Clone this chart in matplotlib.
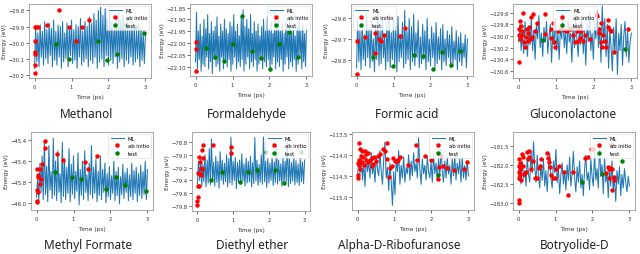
import numpy as np
import matplotlib.pyplot as plt
from matplotlib.ticker import MultipleLocator, ScalarFormatter

# ---- data (energies in eV, times in ps) ----
NAMES = ["Methanol", "Formaldehyde", "Formic acid", "Gluconolactone",
         "Methyl Formate", "Diethyl ether", "Alpha-D-Ribofuranose", "Botryolide-D"]

methanol_ml = [-30.16, -29.90, -30.12, -29.94, -30.15, -29.89, -30.09, -29.93, -30.14, -29.87,
               -30.10, -29.92, -30.13, -29.88, -30.08, -29.91, -30.15, -29.86, -30.11, -29.93,
               -30.14, -29.89, -30.09, -29.90, -30.16, -29.87, -30.12, -29.94, -30.10, -29.88,
               -30.15, -29.91, -30.08, -29.86, -30.13, -29.92, -30.11, -29.89, -30.16, -29.90,
               -30.09, -29.85, -30.14, -29.93, -30.12, -29.87, -30.10, -29.90, -30.15, -29.84,
               -30.11, -29.88, -30.13, -29.82, -30.09, -29.86, -30.16, -29.80, -30.12, -29.78,
               -30.10, -29.83, -30.15, -29.79, -30.08, -29.85, -30.14, -29.81, -30.11, -29.87,
               -30.13, -29.89, -30.09, -29.84, -30.16, -29.82, -30.12, -29.86, -30.10, -29.83,
               -30.15, -29.88, -30.11, -29.85, -30.13, -29.90, -30.09, -29.87, -30.14, -29.89,
               -30.12, -29.92, -30.10, -29.88, -30.15, -29.91, -30.11, -29.93, -30.13, -29.95]
methanol_ab_t = [0.0, 0.0, 0.0, 0.0, 0.02, 0.0, 0.05, 0.1, 0.33, 0.65, 0.93, 1.13, 1.28, 1.47]
methanol_ab_e = [-30.19, -30.14, -30.07, -30.06, -29.99, -29.90, -29.90, -29.90, -29.89, -29.80,
                 -29.90, -29.99, -29.90, -29.86]
methanol_test_t = [0.57, 0.92, 1.72, 1.97, 2.22, 2.47, 2.72, 2.97]
methanol_test_e = [-30.01, -30.10, -29.99, -30.11, -30.07, -29.89, -29.90, -29.94]

formald_ml = [-22.08, -21.87, -22.11, -21.95, -22.07, -21.92, -22.12, -21.97, -22.09, -21.90,
              -22.10, -21.94, -22.06, -21.88, -22.11, -21.96, -22.08, -21.91, -22.13, -21.95,
              -22.07, -21.93, -22.10, -21.89, -22.09, -21.97, -22.12, -21.92, -22.06, -21.95,
              -22.11, -21.90, -22.08, -21.94, -22.10, -21.96, -22.07, -21.91, -22.12, -21.93,
              -22.09, -21.88, -22.06, -21.95, -22.11, -21.92, -22.08, -21.97, -22.10, -21.89,
              -22.07, -21.86, -22.12, -21.93, -22.09, -21.90, -22.06, -21.94, -22.11, -21.88,
              -22.08, -21.96, -22.10, -21.91, -22.07, -21.95, -22.12, -21.92, -22.09, -21.97,
              -22.06, -21.93, -22.11, -21.90, -22.08, -21.95, -22.10, -21.89, -22.07, -21.94,
              -22.12, -21.91, -22.09, -21.96, -22.06, -21.87, -22.11, -21.93, -22.08, -21.90,
              -22.10, -21.95, -22.07, -21.92, -22.12, -21.96, -22.09, -21.91, -22.06, -21.94,
              -22.11, -21.89, -22.08, -21.95, -22.10, -21.92, -22.07, -21.97, -22.12, -21.93,
              -22.09, -21.90, -22.06, -21.95, -22.11, -21.92, -22.08, -21.96, -22.10, -21.94]
formald_ab_t = [0.0, 0.0, 0.0]
formald_ab_e = [-21.995, -22.025, -22.12]
formald_test_t = [0.27, 0.52, 0.77, 1.02, 1.27, 1.52, 1.77, 2.02, 2.27, 2.52, 2.77]
formald_test_e = [-22.02, -22.06, -22.075, -22.005, -21.885, -22.035, -22.065, -22.11,
                  -22.005, -21.955, -22.06]

formic_ml = [-29.84, -29.60, -29.81, -29.66, -29.85, -29.62, -29.80, -29.68, -29.83, -29.58,
             -29.79, -29.65, -29.84, -29.61, -29.81, -29.70, -29.86, -29.63, -29.80, -29.57,
             -29.83, -29.66, -29.82, -29.60, -29.79, -29.69, -29.85, -29.62, -29.81, -29.58,
             -29.84, -29.67, -29.80, -29.61, -29.83, -29.64, -29.86, -29.59, -29.81, -29.68,
             -29.79, -29.62, -29.84, -29.56, -29.82, -29.66, -29.80, -29.60, -29.85, -29.64,
             -29.81, -29.58, -29.83, -29.67, -29.79, -29.61, -29.84, -29.69, -29.82, -29.63,
             -29.80, -29.66, -29.85, -29.60, -29.81, -29.70, -29.83, -29.64, -29.79, -29.67,
             -29.84, -29.62, -29.82, -29.69, -29.80, -29.65, -29.85, -29.63, -29.81, -29.70,
             -29.83, -29.66, -29.79, -29.68, -29.84, -29.64, -29.82, -29.71, -29.80, -29.66,
             -29.85, -29.69, -29.81, -29.67, -29.83, -29.72, -29.79, -29.68, -29.84, -29.70]
formic_ab_t = [0.0, 0.0, 0.22, 0.5, 0.5, 0.6, 0.67, 0.75, 1.17, 1.32]
formic_ab_e = [-29.71, -29.87, -29.69, -29.67, -29.77, -29.70, -29.71, -29.68, -29.685, -29.645]
formic_test_t = [0.45, 0.98, 1.56, 1.81, 2.06, 2.31, 2.56, 2.81]
formic_test_e = [-29.79, -29.83, -29.78, -29.785, -29.845, -29.765, -29.825, -29.76]

glucono_ml = [-130.10, -129.80, -130.25, -129.95, -130.30, -129.75, -130.05, -130.35, -129.85, -130.15,
              -129.70, -130.25, -129.90, -130.40, -129.80, -130.05, -129.65, -130.20, -129.95, -130.35,
              -129.85, -130.10, -129.75, -130.30, -130.00, -129.80, -130.45, -129.90, -130.15, -129.70,
              -130.25, -129.95, -130.40, -129.85, -130.05, -129.60, -130.20, -129.90, -130.30, -129.75,
              -130.10, -129.95, -130.45, -129.80, -130.20, -129.65, -130.05, -130.35, -129.85, -130.15,
              -129.70, -130.30, -129.90, -130.50, -129.80, -130.10, -129.60, -130.25, -129.95, -130.40,
              -129.75, -130.05, -129.55, -130.20, -129.85, -130.45, -129.48, -130.10, -129.70, -130.35,
              -129.80, -130.55, -129.90, -130.20, -130.60, -129.85, -130.30, -129.70, -130.66, -129.95,
              -130.25, -129.80, -130.50, -130.00, -129.75, -130.35, -129.90, -130.45, -130.10, -129.95]
glucono_ab_t = [0.0, 0.035, 0.06, 0.08, 0.10, 0.12, 0.15, 0.17, 0.21, 0.26, 0.30, 0.33, 0.36, 0.39,
                0.43, 0.48, 0.70, 0.70, 0.86, 0.92, 0.94, 0.98, 1.05, 1.12, 1.30, 1.36, 1.45, 1.49,
                1.54, 1.56, 1.62, 1.71, 1.76, 1.89, 2.07, 2.09, 2.13, 2.15, 2.20, 2.24, 2.29, 2.33,
                2.37, 2.42, 2.46, 2.55, 2.90, 0.01, 0.02, 0.04, 0.19, 0.24, 0.27, 0.87, 1.21, 1.40,
                1.58, 1.67, 2.18, 2.22, 2.39]
glucono_ab_e = [-130.45, -129.75, -129.83, -129.91, -129.98, -129.60, -130.11, -130.18, -129.88,
                -129.95, -130.05, -129.67, -130.01, -129.62, -129.91, -129.78, -129.63, -129.96,
                -130.03, -129.77, -130.11, -130.18, -129.91, -129.85, -129.91, -129.88, -129.98,
                -130.10, -129.86, -129.91, -130.03, -130.08, -129.98, -130.05, -129.62, -129.66,
                -129.88, -129.95, -129.78, -129.98, -130.08, -130.18, -129.72, -129.90, -129.91,
                -130.28, -129.88, -129.88, -129.98, -130.05, -130.01, -130.08, -129.85, -129.88,
                -129.90, -129.86, -130.08, -129.91, -130.11, -130.18, -129.85]
glucono_test_t = [0.65, 2.82]
glucono_test_e = [-130.06, -130.22]

mformate_ml = [-45.95, -45.75, -45.98, -45.62, -45.90, -45.55, -45.97, -45.40, -45.92, -45.65,
               -45.99, -45.45, -45.88, -45.70, -45.96, -45.38, -45.93, -45.60, -45.98, -45.50,
               -45.90, -45.72, -46.00, -45.42, -45.94, -45.58, -45.97, -45.66, -45.91, -45.48,
               -45.99, -45.63, -45.92, -45.55, -45.96, -45.70, -45.89, -45.52, -46.02, -45.68,
               -45.93, -45.60, -45.97, -45.50, -45.90, -45.73, -45.98, -45.62, -45.92, -45.45,
               -45.96, -45.66, -45.91, -45.58, -45.99, -45.70, -45.93, -45.55, -45.97, -45.68,
               -45.90, -45.62, -46.00, -45.72, -45.94, -45.65, -45.97, -45.74, -45.91, -45.60,
               -45.98, -45.70, -45.93, -45.66, -46.01, -45.75, -45.92, -45.63, -45.96, -45.71,
               -45.90, -45.67, -45.98, -45.73, -45.94, -45.62, -45.97, -45.69, -45.91, -45.66,
               -45.99, -45.72, -45.93, -45.64, -45.96, -45.70, -45.92, -45.60, -45.97, -45.68]
mformate_ab_t = [0.02, 0.02, 0.02, 0.03, 0.02, 0.03, 0.03, 0.09, 0.10, 0.13, 0.15, 0.22, 0.22,
                 0.56, 0.71, 1.32, 1.40, 1.64]
mformate_ab_e = [-45.98, -45.99, -45.875, -45.90, -45.68, -45.73, -45.75, -45.68, -45.82, -45.77,
                 -45.625, -45.41, -45.47, -45.53, -45.59, -45.61, -45.675, -45.55]
mformate_test_t = [0.49, 0.96, 1.21, 1.89, 2.14, 2.38, 2.96]
mformate_test_e = [-45.70, -45.75, -45.775, -45.87, -45.75, -45.83, -45.89]

diethyl_ml = [-79.45, -79.10, -79.40, -79.05, -79.48, -79.15, -79.42, -79.00, -79.50, -79.08,
              -79.44, -78.90, -79.47, -78.75, -79.41, -79.12, -79.49, -79.02, -79.43, -79.10,
              -79.52, -78.95, -79.40, -79.08, -79.46, -79.13, -79.42, -79.00, -79.50, -79.06,
              -79.44, -78.72, -79.47, -79.10, -79.40, -79.04, -79.53, -79.12, -79.43, -79.08,
              -79.46, -78.98, -79.41, -79.14, -79.49, -79.05, -79.44, -79.10, -79.42, -79.02,
              -79.50, -79.12, -79.45, -78.73, -79.41, -79.08, -79.48, -79.15, -79.43, -79.00,
              -79.46, -78.72, -79.42, -79.10, -79.51, -79.05, -79.44, -79.13, -79.40, -79.02,
              -79.48, -79.11, -79.43, -78.85, -79.46, -79.08, -79.41, -79.14, -79.49, -79.04,
              -79.44, -79.10, -79.42, -78.78, -79.50, -79.06, -79.45, -79.12, -79.41, -79.02,
              -79.47, -79.09, -79.43, -79.14, -79.48, -79.05, -79.42, -79.11, -79.45, -79.08]
diethyl_ab_t = [0.0, 0.0, 0.02, 0.02, 0.04, 0.02, 0.04, 0.06, 0.08, 0.11, 0.11, 0.12, 0.13,
                0.15, 0.17, 0.45, 0.93, 0.93]
diethyl_ab_e = [-79.78, -79.72, -79.66, -79.49, -79.48, -79.29, -79.03, -79.11, -79.30, -79.31,
                -79.20, -79.22, -78.93, -78.85, -79.05, -78.85, -78.88, -78.97]
diethyl_test_t = [0.39, 0.69, 1.18, 1.43, 1.67, 1.92, 2.16, 2.43, 2.91]
diethyl_test_e = [-79.40, -79.26, -79.43, -79.26, -79.24, -78.96, -79.24, -79.44, -78.96]

ribo_ml = [-114.50, -114.10, -114.45, -114.00, -114.60, -114.20, -114.75, -114.05, -114.40, -114.15,
           -114.55, -113.95, -114.45, -114.25, -114.65, -114.05, -114.35, -114.50, -113.90, -114.40,
           -114.70, -114.10, -113.70, -114.55, -114.30, -114.85, -114.20, -114.60, -115.20, -114.40,
           -114.95, -114.10, -114.40, -113.90, -114.70, -114.25, -114.55, -114.05, -114.65, -114.30,
           -114.45, -114.00, -114.60, -114.15, -114.50, -113.95, -114.40, -114.20, -114.55, -113.60,
           -114.35, -114.70, -114.10, -114.45, -114.25, -114.60, -114.05, -114.40, -114.55, -114.15,
           -114.65, -114.00, -114.45, -114.20, -114.60, -114.10, -114.50, -113.85, -114.40, -114.65,
           -114.15, -114.55, -114.05, -114.45, -114.25, -114.70, -114.10, -114.50, -114.00, -114.60,
           -114.20, -114.45, -114.10, -114.65, -114.05, -114.55, -114.25, -114.60, -114.15, -114.50]
ribo_ab_t = [0.0, 0.0, 0.0, 0.03, 0.04, 0.05, 0.07, 0.07, 0.10, 0.11, 0.13, 0.16, 0.18, 0.20, 0.22,
             0.24, 0.27, 0.29, 0.33, 0.38, 0.40, 0.42, 0.45, 0.51, 0.55, 0.62, 0.68, 0.73, 0.80,
             0.81, 0.86, 0.87, 0.92, 0.97, 1.01, 1.06, 1.09, 1.15, 1.36, 1.58, 1.60, 1.82, 2.00,
             2.17, 2.21, 2.26, 2.32, 2.43, 2.61, 2.87, 2.97]
ribo_ab_e = [-114.48, -114.54, -114.19, -113.73, -114.12, -114.25, -114.33, -113.87, -114.04,
             -114.18, -113.92, -114.06, -114.25, -113.90, -114.12, -113.98, -113.95, -114.18,
             -114.12, -114.08, -114.27, -114.22, -114.05, -114.14, -114.02, -113.98, -113.87,
             -113.90, -113.72, -114.10, -114.52, -114.31, -114.27, -114.08, -114.15, -114.15,
             -114.12, -114.06, -114.25, -113.78, -114.12, -114.04, -114.12, -114.58, -114.28,
             -114.02, -114.27, -114.31, -114.35, -114.33, -114.17]
ribo_test_t = [2.17]
ribo_test_e = [-114.48]

botry_ml = [-182.40, -182.05, -182.50, -181.90, -182.35, -182.15, -182.55, -181.80, -182.25, -182.45,
            -181.65, -182.20, -181.40, -182.05, -182.45, -181.75, -182.30, -182.60, -182.00, -182.40,
            -181.85, -182.55, -182.15, -182.70, -182.05, -181.70, -182.35, -182.60, -181.90, -182.20,
            -181.60, -182.45, -182.10, -182.75, -182.25, -181.95, -182.50, -182.15, -182.65, -182.00,
            -182.40, -181.80, -182.55, -182.20, -181.65, -182.35, -182.70, -182.05, -182.45, -181.90,
            -182.60, -182.25, -182.80, -182.10, -181.75, -182.40, -182.20, -182.65, -181.85, -182.30,
            -182.55, -181.70, -182.40, -182.10, -182.60, -181.45, -182.30, -182.00, -182.75, -181.80,
            -182.45, -182.20, -182.85, -182.05, -182.55, -181.90, -182.70, -182.30, -182.95, -182.15,
            -182.50, -182.05, -182.80, -182.25, -182.60, -182.10, -182.45, -182.70, -182.30, -182.55]
botry_ab_t = [0.0, 0.0, 0.0, 0.0, 0.01, 0.01, 0.03, 0.03, 0.04, 0.07, 0.10, 0.11, 0.13, 0.16,
              0.20, 0.23, 0.25, 0.27, 0.29, 0.34, 0.38, 0.45, 0.49, 0.54, 0.57, 0.60, 0.78, 0.79,
              0.82, 0.86, 0.89, 0.93, 0.98, 1.02, 1.09, 1.22, 1.35, 1.48, 1.81, 1.88, 1.95, 2.01,
              2.37, 2.41, 2.44, 2.45, 2.48, 2.50, 2.52, 2.54, 2.59, 2.57]
botry_ab_e = [-182.92, -183.00, -181.86, -182.02, -182.19, -182.35, -181.96, -182.27, -182.10,
              -182.39, -181.71, -181.81, -182.02, -182.25, -182.19, -181.67, -181.86, -181.79,
              -181.65, -182.10, -181.90, -182.34, -182.35, -182.09, -182.02, -181.86, -181.69,
              -181.83, -181.92, -182.06, -182.27, -182.34, -182.34, -182.10, -182.04, -182.19,
              -182.79, -182.19, -181.83, -181.79, -181.59, -181.59, -182.21, -182.06, -182.35,
              -182.12, -182.09, -181.48, -182.64, -182.10, -182.31, -182.39]
botry_test_t = [1.72, 2.26, 2.79]
botry_test_e = [-182.45, -182.24, -181.91]

ML = [methanol_ml, formald_ml, formic_ml, glucono_ml, mformate_ml, diethyl_ml, ribo_ml, botry_ml]
AB = [(methanol_ab_t, methanol_ab_e), (formald_ab_t, formald_ab_e), (formic_ab_t, formic_ab_e),
      (glucono_ab_t, glucono_ab_e), (mformate_ab_t, mformate_ab_e), (diethyl_ab_t, diethyl_ab_e),
      (ribo_ab_t, ribo_ab_e), (botry_ab_t, botry_ab_e)]
TEST = [(methanol_test_t, methanol_test_e), (formald_test_t, formald_test_e),
        (formic_test_t, formic_test_e), (glucono_test_t, glucono_test_e),
        (mformate_test_t, mformate_test_e), (diethyl_test_t, diethyl_test_e),
        (ribo_test_t, ribo_test_e), (botry_test_t, botry_test_e)]

# ---- layout (pixel boxes: left, right, top, bottom) ----
BOXES = [(29, 151, 5, 79), (190, 312, 5, 77), (351, 473, 5, 77), (513, 637, 5, 79),
         (31, 153, 133, 211), (192, 310, 133, 212), (352, 474, 133, 211), (513, 635, 133, 211)]
YLIMS = [(-30.22, -29.76), (-22.14, -21.835), (-29.88, -29.53), (-130.72, -129.45),
         (-46.07, -45.32), (-79.88, -78.64), (-115.31, -113.46), (-183.17, -181.15)]
YSTEPS = [0.1, 0.05, 0.1, 0.2, 0.2, 0.2, 0.5, 0.5]
LEG_LOC = ["upper right", "upper right", "upper left", "upper center",
           "upper right", "upper right", "upper right", "upper right"]
TITLE_POS = [(87, 115), (247, 115), (407, 115), (573, 115),
             (88, 246), (252, 246), (399, 246), (575, 246)]

W, H = 640, 255
fig = plt.figure(figsize=(6.4, 2.55), dpi=100)

for i in range(8):
    l, r, t, b = BOXES[i]
    ax = fig.add_axes([l / W, 1 - b / H, (r - l) / W, (b - t) / H])
    e = np.array(ML[i])
    time = np.linspace(0, 3, len(e))
    ax.plot(time, e, color='#1f77b4', lw=0.75, label='ML')
    ax.plot(AB[i][0], AB[i][1], 'o', color='red', ms=3.2, mew=0, label='ab initio')
    ax.plot(TEST[i][0], TEST[i][1], 'o', color='green', ms=3.2, mew=0, label='test')
    ax.set_ylim(*YLIMS[i])
    ax.set_xticks([0, 1, 2, 3])
    ax.yaxis.set_major_locator(MultipleLocator(YSTEPS[i]))
    ax.yaxis.set_major_formatter(ScalarFormatter(useOffset=False))
    ax.tick_params(labelsize=3.8, length=2, width=0.5, pad=1, colors='#333333')
    ax.tick_params(axis='x', pad=2.5)
    ax.set_xlabel('Time (ps)', fontsize=4.2, labelpad=3.5, color='#333333')
    ax.set_ylabel('Energy (eV)', fontsize=4.2, labelpad=1, color='#333333')
    for s in ax.spines.values():
        s.set_color('#999999')
        s.set_linewidth(0.6)
    leg = ax.legend(loc=LEG_LOC[i], fontsize=3.8, handlelength=2.5, borderpad=0.4,
                    labelspacing=0.5, handletextpad=0.8, borderaxespad=0.3,
                    framealpha=0.8, fancybox=True)
    leg.get_frame().set_linewidth(0.4)
    fig.text(TITLE_POS[i][0] / W, 1 - TITLE_POS[i][1] / H, NAMES[i], ha='center', va='center',
             fontsize=8.5, family='Noto Sans', color='#222222')

fig.savefig('out.png', dpi=100)
